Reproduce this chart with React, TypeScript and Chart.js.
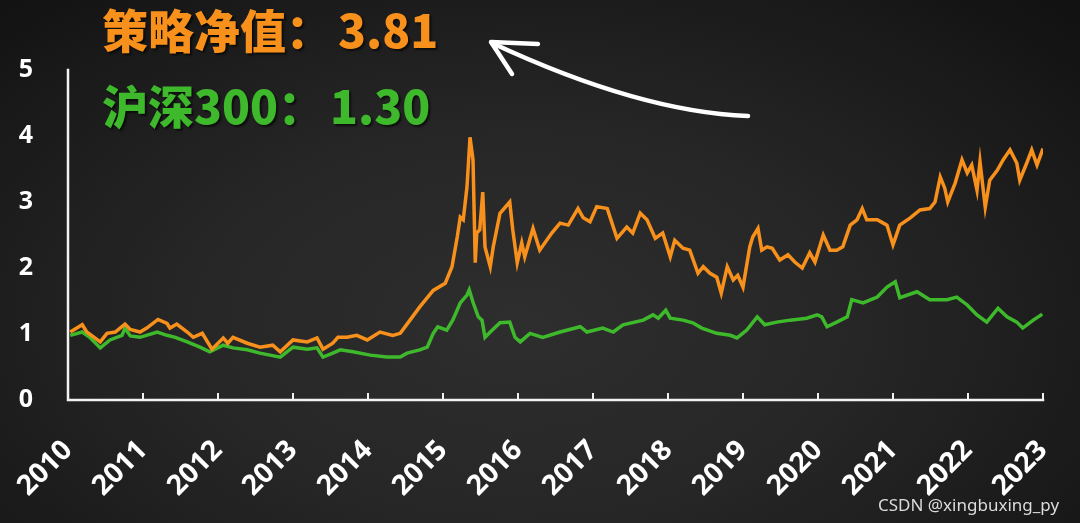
import React, { useEffect, useRef } from "react";
import { Chart, registerables } from "chart.js";

Chart.register(...registerables);

const strategyYears = [
  2010.03, 2010.19, 2010.25, 2010.43, 2010.52, 2010.63, 2010.76, 2010.83, 2010.96, 2011.05,
  2011.2, 2011.32, 2011.36, 2011.45, 2011.59, 2011.67, 2011.79, 2011.92, 2012.07, 2012.13,
  2012.2, 2012.39, 2012.56, 2012.73, 2012.83, 2013.0, 2013.19, 2013.32, 2013.4, 2013.53,
  2013.6, 2013.72, 2013.85, 2013.99, 2014.16, 2014.33, 2014.43, 2014.56, 2014.69, 2014.87,
  2015.03, 2015.12, 2015.19, 2015.23, 2015.27, 2015.32, 2015.36, 2015.4, 2015.43, 2015.45,
  2015.49, 2015.53, 2015.56, 2015.63, 2015.67, 2015.76, 2015.83, 2015.89, 2015.93, 2015.99,
  2016.05, 2016.09, 2016.2, 2016.29, 2016.45, 2016.56, 2016.67, 2016.8, 2016.87, 2016.96,
  2017.05, 2017.19, 2017.32, 2017.45, 2017.53, 2017.63, 2017.72, 2017.83, 2017.93, 2018.03,
  2018.09, 2018.2, 2018.29, 2018.4, 2018.47, 2018.56, 2018.65, 2018.71, 2018.79, 2018.87,
  2018.93, 2019.0, 2019.09, 2019.13, 2019.2, 2019.25, 2019.32, 2019.39, 2019.49, 2019.6,
  2019.69, 2019.79, 2019.89, 2019.96, 2020.07, 2020.16, 2020.25, 2020.33, 2020.43, 2020.52,
  2020.59, 2020.65, 2020.79, 2020.87, 2020.92, 2021.0, 2021.09, 2021.23, 2021.36, 2021.49,
  2021.56, 2021.63, 2021.69, 2021.73, 2021.83, 2021.92, 2021.99, 2022.05, 2022.12, 2022.16,
  2022.23, 2022.29, 2022.39, 2022.47, 2022.56, 2022.65, 2022.69, 2022.79, 2022.85, 2022.92,
  2023.0,
];
const strategyValues = [
  1.03, 1.14, 1.03, 0.88, 1.01, 1.03, 1.15, 1.07, 1.03, 1.09,
  1.22, 1.16, 1.09, 1.15, 1.03, 0.95, 1.01, 0.77, 0.94, 0.86,
  0.95, 0.86, 0.8, 0.83, 0.73, 0.91, 0.88, 0.94, 0.77, 0.86,
  0.95, 0.95, 0.98, 0.91, 1.03, 0.98, 1.01, 1.21, 1.41, 1.66,
  1.77, 2.02, 2.47, 2.77, 2.73, 3.23, 3.98, 3.64, 2.08, 2.53,
  2.58, 3.15, 2.32, 2.02, 2.32, 2.83, 2.92, 3.0, 2.58, 2.08,
  2.38, 2.17, 2.6, 2.27, 2.53, 2.68, 2.65, 2.9, 2.76, 2.7,
  2.93, 2.9, 2.45, 2.62, 2.53, 2.83, 2.73, 2.45, 2.53, 2.17,
  2.42, 2.3, 2.27, 1.92, 2.02, 1.92, 1.86, 1.62, 2.02, 1.82,
  1.89, 1.71, 2.32, 2.47, 2.6, 2.27, 2.32, 2.3, 2.12, 2.2,
  2.09, 2.0, 2.23, 2.09, 2.5, 2.27, 2.27, 2.32, 2.65, 2.73,
  2.9, 2.73, 2.73, 2.68, 2.65, 2.35, 2.65, 2.76, 2.88, 2.9,
  3.0, 3.38, 3.21, 3.0, 3.29, 3.64, 3.44, 3.56, 3.18, 3.61,
  2.92, 3.33, 3.48, 3.64, 3.79, 3.59, 3.33, 3.61, 3.79, 3.56,
  3.81,
];

const hs300Years = [
  2010.03, 2010.19, 2010.29, 2010.43, 2010.56, 2010.72, 2010.76, 2010.83, 2010.96, 2011.19,
  2011.32, 2011.43, 2011.59, 2011.76, 2011.89, 2012.07, 2012.2, 2012.39, 2012.56, 2012.83,
  2013.0, 2013.19, 2013.32, 2013.4, 2013.53, 2013.63, 2013.8, 2014.03, 2014.25, 2014.43,
  2014.52, 2014.69, 2014.79, 2014.87, 2014.93, 2015.05, 2015.13, 2015.23, 2015.32, 2015.35,
  2015.4, 2015.47, 2015.52, 2015.56, 2015.63, 2015.76, 2015.89, 2015.96, 2016.03, 2016.16,
  2016.33, 2016.56, 2016.83, 2016.92, 2017.13, 2017.27, 2017.4, 2017.67, 2017.8, 2017.87,
  2017.97, 2018.03, 2018.2, 2018.33, 2018.45, 2018.65, 2018.83, 2018.92, 2019.05, 2019.19,
  2019.29, 2019.45, 2019.63, 2019.85, 2019.99, 2020.05, 2020.12, 2020.25, 2020.39, 2020.45,
  2020.6, 2020.79, 2020.92, 2021.03, 2021.09, 2021.32, 2021.49, 2021.72, 2021.85, 2021.99,
  2022.12, 2022.25, 2022.4, 2022.52, 2022.65, 2022.73, 2022.87, 2022.99,
];
const hs300Values = [
  0.98, 1.03, 0.95, 0.79, 0.91, 0.98, 1.09, 0.97, 0.95, 1.03,
  0.98, 0.95, 0.88, 0.8, 0.73, 0.83, 0.79, 0.76, 0.71, 0.65,
  0.8, 0.77, 0.79, 0.65, 0.71, 0.76, 0.73, 0.68, 0.65, 0.65,
  0.71, 0.76, 0.8, 1.01, 1.11, 1.06, 1.21, 1.47, 1.59, 1.67,
  1.48, 1.26, 1.21, 0.95, 1.03, 1.17, 1.18, 0.95, 0.88, 1.01,
  0.95, 1.03, 1.11, 1.03, 1.09, 1.03, 1.14, 1.21, 1.29, 1.24,
  1.36, 1.24, 1.21, 1.17, 1.09, 1.01, 0.98, 0.94, 1.06, 1.26,
  1.14, 1.18, 1.21, 1.24, 1.29, 1.26, 1.11, 1.18, 1.26, 1.52,
  1.47, 1.56, 1.71, 1.79, 1.55, 1.64, 1.52, 1.52, 1.56, 1.44,
  1.29, 1.18, 1.39, 1.26, 1.18, 1.09, 1.21, 1.3,
];

const yearTicks = [2010, 2011, 2012, 2013, 2014, 2015, 2016, 2017, 2018, 2019, 2020, 2021, 2022, 2023];
const valueTicks = [0, 1, 2, 3, 4, 5];

const strategyLabel = "策略净值：";
const strategyFinal = "3.81";
const hs300Label = "沪深300：";
const hs300Final = "1.30";
const watermark = "CSDN @xingbuxing_py";

const ORANGE = "#f8901c";
const GREEN = "#3fb92c";

const axesPlugin = {
  id: "customAxes",
  afterDraw(chart: any) {
    const { ctx, scales } = chart;
    const x = scales.x;
    const y = scales.y;
    const x0 = x.getPixelForValue(yearTicks[0]);
    const x1 = x.getPixelForValue(yearTicks[yearTicks.length - 1]);
    const yTop = y.getPixelForValue(valueTicks[valueTicks.length - 1]);
    const yBot = y.getPixelForValue(valueTicks[0]);
    ctx.save();
    ctx.strokeStyle = "#f2f2f2";
    ctx.lineWidth = 2.5;
    ctx.lineCap = "square";
    ctx.beginPath();
    ctx.moveTo(x0, yTop);
    ctx.lineTo(x0, yBot);
    ctx.lineTo(x1, yBot);
    ctx.stroke();
    ctx.lineWidth = 2;
    ctx.lineCap = "butt";
    for (const t of yearTicks.slice(1)) {
      const px = x.getPixelForValue(t);
      ctx.beginPath();
      ctx.moveTo(px, yBot);
      ctx.lineTo(px, yBot - 7);
      ctx.stroke();
    }
    // curved arrow
    ctx.strokeStyle = "#ffffff";
    ctx.lineWidth = 4.5;
    ctx.lineCap = "round";
    ctx.lineJoin = "round";
    ctx.beginPath();
    ctx.moveTo(748, 116);
    ctx.quadraticCurveTo(640, 112, 492, 43);
    ctx.stroke();
    ctx.beginPath();
    ctx.moveTo(538, 44);
    ctx.lineTo(491, 42);
    ctx.lineTo(512, 74);
    ctx.stroke();
    ctx.restore();
  },
};

export default function App() {
  const canvasRef = useRef<HTMLCanvasElement | null>(null);

  useEffect(() => {
    document.body.style.margin = "0";
    const canvas = canvasRef.current;
    if (!canvas) return;
    const chart = new Chart(canvas, {
      type: "line",
      data: {
        datasets: [
          {
            label: "策略净值",
            data: strategyYears.map((x, i) => ({ x, y: strategyValues[i] })),
            borderColor: ORANGE,
            borderWidth: 3.5,
            pointRadius: 0,
            tension: 0,
          },
          {
            label: "沪深300",
            data: hs300Years.map((x, i) => ({ x, y: hs300Values[i] })),
            borderColor: GREEN,
            borderWidth: 3.5,
            pointRadius: 0,
            tension: 0,
          },
        ],
      },
      options: {
        animation: false,
        responsive: false,
        maintainAspectRatio: false,
        layout: { padding: { top: 70, right: 37, left: 0, bottom: 0 } },
        plugins: { legend: { display: false }, tooltip: { enabled: false }, title: { display: false } },
        scales: {
          x: {
            type: "linear",
            min: yearTicks[0],
            max: yearTicks[yearTicks.length - 1],
            afterBuildTicks: (s: any) => {
              s.ticks = yearTicks.map((v) => ({ value: v }));
            },
            afterFit: (s: any) => {
              s.height = 123;
              s.paddingLeft = 0;
              s.paddingRight = 0;
            },
            grid: { display: false, drawTicks: false },
            border: { display: false },
            ticks: {
              color: "#ffffff",
              font: { family: "'Open Sans', 'Noto Sans CJK SC', sans-serif", size: 28, weight: "bold" },
              maxRotation: 45,
              minRotation: 45,
              autoSkip: false,
              padding: 34,
              callback: (v: any) => String(v),
            },
          },
          y: {
            min: valueTicks[0],
            max: valueTicks[valueTicks.length - 1],
            afterBuildTicks: (s: any) => {
              s.ticks = valueTicks.map((v) => ({ value: v }));
            },
            afterFit: (s: any) => {
              s.width = 68;
              s.paddingTop = 0;
              s.paddingBottom = 0;
            },
            grid: { display: false, drawTicks: false },
            border: { display: false },
            ticks: {
              color: "#ffffff",
              font: { family: "'Open Sans', 'Noto Sans CJK SC', sans-serif", size: 25, weight: "bold" },
              padding: 35,
            },
          },
        },
      },
      plugins: [axesPlugin],
    });
    return () => chart.destroy();
  }, []);

  const titleBase: React.CSSProperties = {
    position: "absolute",
    left: 102,
    margin: 0,
    fontFamily: "'Noto Sans CJK SC', sans-serif",
    fontWeight: 900,
    fontSize: 46,
    lineHeight: 1,
    whiteSpace: "nowrap",
    textShadow: "2px 2px 2px rgba(0,0,0,0.6)",
  };

  return (
    <div
      style={{
        position: "fixed",
        left: 0,
        top: 0,
        width: 1080,
        height: 523,
        overflow: "hidden",
        background:
          "radial-gradient(ellipse 70% 85% at 48% 62%, #2e2e2e 0%, #262626 45%, #181818 85%, #121212 100%)",
      }}
    >
      <canvas ref={canvasRef} width={1080} height={523} style={{ position: "absolute", left: 0, top: 0 }} />
      <div style={{ ...titleBase, top: 5, color: ORANGE }}>
        {strategyLabel}
        <span style={{ marginLeft: 6 }}>{strategyFinal}</span>
      </div>
      <div style={{ ...titleBase, top: 81, color: GREEN }}>
        {hs300Label}
        <span style={{ marginLeft: 6 }}>{hs300Final}</span>
      </div>
      <div
        style={{
          position: "absolute",
          left: 878,
          top: 493,
          fontFamily: "'Noto Sans', 'Liberation Sans', sans-serif",
          fontSize: 17,
          color: "#dcdcdc",
          whiteSpace: "nowrap",
        }}
      >
        {watermark}
      </div>
    </div>
  );
}
